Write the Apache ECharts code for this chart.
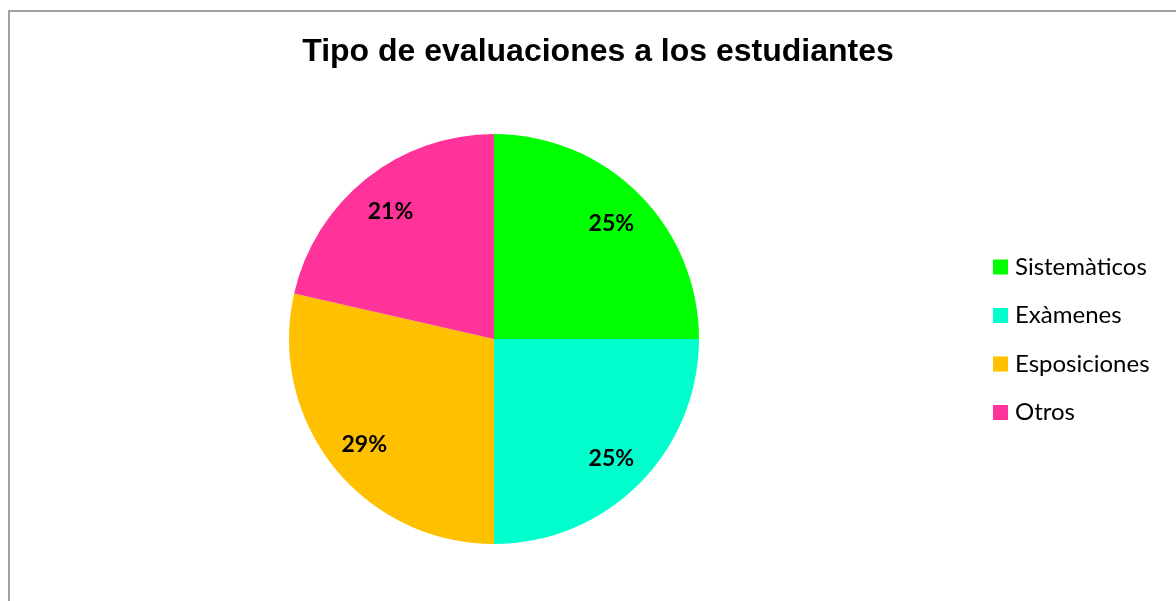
<!DOCTYPE html>
<html>
<head>
<meta charset="utf-8">
<title>Tipo de evaluaciones a los estudiantes</title>
<script src="https://cdn.jsdelivr.net/npm/echarts@6/dist/echarts.min.js"></script>
<style>
  html, body { margin: 0; padding: 0; background: #fff; }
  #chart { width: 1176px; height: 601px; }
</style>
</head>
<body>
<div id="chart"></div>
<script>
// datos del grafico (conteos; las etiquetas muestran el % redondeado)
var categorias = ['Sistemàticos', 'Exàmenes', 'Esposiciones', 'Otros'];
var conteos = [7, 7, 8, 6];
var colores = ['#00FF00', '#00FFCC', '#FFC000', '#FF3399'];

var datos = categorias.map(function (c, i) {
  return {name: c, value: conteos[i], itemStyle: {color: colores[i]}};
});

var chart = echarts.init(document.getElementById('chart'));
var option = {
  animation: false,
  title: {
    text: 'Tipo de evaluaciones a los estudiantes',
    left: 593,
    top: 31,
    textAlign: 'center',
    textStyle: {
      fontFamily: 'Liberation Sans',
      fontWeight: 'bold',
      fontSize: 32,
      color: '#000'
    }
  },
  legend: {
    orient: 'vertical',
    left: 988,
    top: 250,
    itemWidth: 15,
    itemHeight: 15,
    itemGap: 24.5,
    icon: 'rect',
    data: categorias,
    textStyle: {fontFamily: 'Lato', fontSize: 24, lineHeight: 24, color: '#000', padding: [0, 0, 0, 2]}
  },
  graphic: [{
    type: 'rect',
    shape: {x: 9, y: 11, width: 1200, height: 700},
    style: {fill: 'none', stroke: '#a0a0a0', lineWidth: 2},
    silent: true
  }],
  series: [
    {
      name: 'Evaluaciones',
      type: 'pie',
      center: [494, 339],
      radius: 205,
      startAngle: 90,
      clockwise: true,
      label: {show: false},
      labelLine: {show: false},
      data: datos
    },
    {
      // capa transparente solo para colocar las etiquetas
      name: 'Etiquetas',
      type: 'pie',
      center: [494, 339],
      radius: [121, 205],
      startAngle: 90,
      clockwise: true,
      silent: true,
      percentPrecision: 0,
      legendHoverLink: false,
      itemStyle: {color: 'rgba(0,0,0,0)'},
      label: {
        show: true,
        position: 'inside',
        formatter: '{d}%',
        fontFamily: 'Lato',
        fontWeight: 'bold',
        fontSize: 23,
        color: '#000',
        offset: [0, 2]
      },
      labelLine: {show: false},
      data: categorias.map(function (c, i) {
        return {name: c + ' ', value: conteos[i]};
      })
    }
  ]
};
chart.setOption(option);
</script>
</body>
</html>
